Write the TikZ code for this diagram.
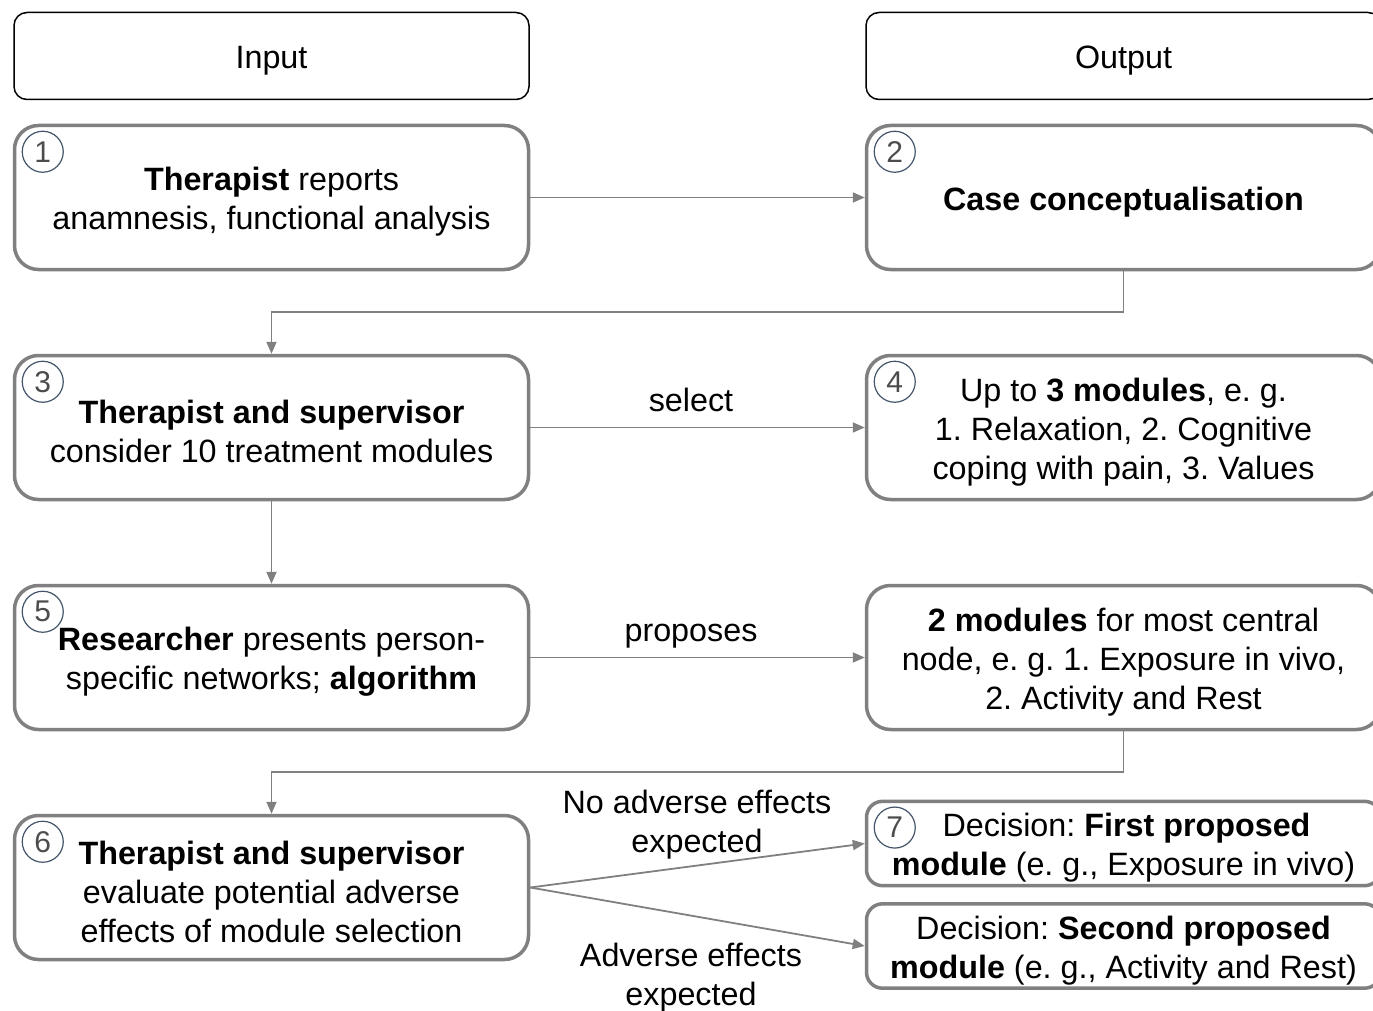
\documentclass[tikz,border=0pt]{standalone}
\usepackage{fontspec}
\setmainfont{Liberation Sans}
\usetikzlibrary{arrows.meta}
\definecolor{boxgray}{HTML}{808080}
\definecolor{numblue}{HTML}{44546A}
\frenchspacing
\newcommand{\firstline}{\rule{0pt}{32pt}}

\begin{document}
\begin{tikzpicture}[x=1pt, y=-1pt,
    every node/.style={font=\fontsize{32.3}{39}\selectfont},
    head/.style={draw=black, line width=1.5pt, rounded corners=13pt, minimum width=515pt, minimum height=87pt},
    stage/.style={draw=boxgray, line width=3.5pt, rounded corners=24pt, minimum width=514pt, minimum height=144pt, align=center},
    choice/.style={stage, rounded corners=16pt, minimum height=84pt},
    num/.style={circle, draw=numblue, line width=1.2pt, minimum size=41pt, inner sep=0pt, text=black!70, font=\fontsize{30}{30}\selectfont},
    link/.style={draw=boxgray, line width=1.8pt, -{Triangle[length=12pt,width=10pt]}},
    lbl/.style={align=center}]
  \clip (0,0) rectangle (1373,1011);

  % HEADERS
  \node[head] (In) at (271.5,56) {\firstline Input};
  \node[head] (Out) at (1123.5,56) {\firstline Output};

  % INPUT SIDE
  \node[stage] (S1) at (271.5,197.5) {\firstline\textbf{Therapist} reports\\anamnesis, functional analysis};
  \node[stage] (S3) at (271.5,427.5) {\firstline\textbf{Therapist and supervisor}\\consider 10 treatment modules};
  \node[stage] (S5) at (271.5,657.5) {\firstline\textbf{Researcher} presents person-\\specific networks; \textbf{algorithm}};
  \node[stage] (S6) at (271.5,887.5) {\firstline\textbf{Therapist and supervisor}\\evaluate potential adverse\\effects of module selection};

  % OUTPUT SIDE
  \node[stage] (S2) at (1123.5,197.5) {\firstline\textbf{Case conceptualisation}};
  \node[stage] (S4) at (1123.5,427.5) {\firstline Up to \textbf{3 modules}, e. g.\\1. Relaxation, 2. Cognitive\\coping with pain, 3. Values};
  \node[stage] (P) at (1123.5,657.5) {\firstline\textbf{2 modules} for most central\\node, e. g. 1. Exposure in vivo,\\2. Activity and Rest};
  \node[choice] (S7) at (1123.5,843.5) {\firstline\hspace{6pt}Decision: \textbf{First proposed}\\\textbf{module} (e. g., Exposure in vivo)};
  \node[choice] (D2) at (1123.5,946) {\firstline Decision: \textbf{Second proposed}\\\textbf{module} (e. g., Activity and Rest)};

  % NUMBERS
  \node[num] (n1) at ([shift={(30,28)}]S1.north west) {1};
  \node[num] (n2) at ([shift={(30,28)}]S2.north west) {2};
  \node[num] (n3) at ([shift={(30,28)}]S3.north west) {3};
  \node[num] (n4) at ([shift={(30,28)}]S4.north west) {4};
  \node[num] (n5) at ([shift={(30,28)}]S5.north west) {5};
  \node[num] (n6) at ([shift={(30,28)}]S6.north west) {6};
  \node[num] (n7) at ([shift={(30,28)}]S7.north west) {7};

  % CONNECTORS
  \draw[link] (S1.east) -- (S2.west);
  \draw[link] (S2.south) -- ++(0,41) -| (S3.north);
  \draw[link] (S3.east) -- (S4.west);
  \draw[link] (S3.south) -- (S5.north);
  \draw[link] (S5.east) -- (P.west);
  \draw[link] (P.south) -- ++(0,41) -| (S6.north);
  \draw[link] (S6.east) -- (S7.west);
  \draw[link] (S6.east) -- (D2.west);

  % LABELS
  \node[anchor=base] (selL) at (691,411) {select};
  \node[anchor=base] (propL) at (691,641) {proposes};
  \node[lbl] (noL) at (697,825) {No adverse effects\\expected};
  \node[lbl] (advL) at (691,978) {Adverse effects\\expected};
\end{tikzpicture}
\end{document}
